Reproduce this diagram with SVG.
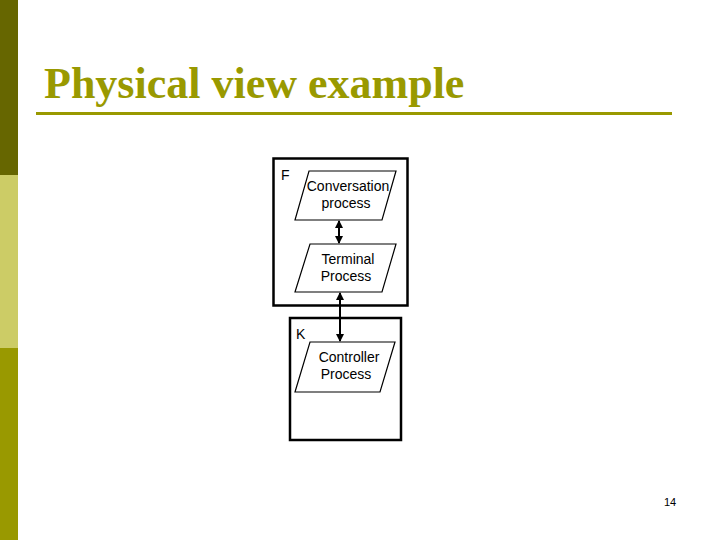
<svg xmlns="http://www.w3.org/2000/svg" width="720" height="540" viewBox="0 0 720 540">
<style>
.lbl{font-family:"Liberation Sans",Arial,sans-serif;font-size:14px;fill:#000;text-anchor:middle}
.tag{font-family:"Liberation Sans",Arial,sans-serif;font-size:14px;fill:#000}
.para{fill:#fff;stroke:#000;stroke-width:1.2}
.box{fill:#fff;stroke:#000;stroke-width:2.5}
.conn{stroke:#000;stroke-width:2;fill:none}
</style>
<defs>
<marker id="ah" markerWidth="8" markerHeight="8" refX="7" refY="4" orient="auto-start-reverse" markerUnits="userSpaceOnUse">
<path d="M0,0 L8,4 L0,8 Z" fill="#000"/>
</marker>
</defs>
<rect width="720" height="540" fill="#fff"/>
<rect x="0" y="0" width="18" height="175" fill="#666600"/>
<rect x="0" y="175" width="18" height="173" fill="#cccc66"/>
<rect x="0" y="348" width="18" height="192" fill="#999900"/>
<text x="44" y="98" font-family="Liberation Serif,'Times New Roman',serif" font-weight="bold" font-size="44" fill="#999900">Physical view example</text>
<rect x="36" y="112" width="636" height="3" fill="#999900"/>
<g id="nodeF">
<rect class="box" x="273.5" y="158.5" width="134" height="147"/>
<text class="tag" x="281" y="180">F</text>
</g>
<g id="nodeK">
<rect class="box" x="290" y="318" width="111" height="122"/>
<text class="tag" x="296" y="339">K</text>
</g>
<g id="conversation">
<polygon class="para" points="309,171 396,171 382,220 295,220"/>
<text class="lbl" x="348" y="191">Conversation</text>
<text class="lbl" x="346" y="208">process</text>
</g>
<g id="terminal">
<polygon class="para" points="310,244 396,244 382,292 295,292"/>
<text class="lbl" x="348" y="264">Terminal</text>
<text class="lbl" x="346" y="281">Process</text>
</g>
<g id="controller">
<polygon class="para" points="310,342 395,342 380,392 295,392"/>
<text class="lbl" x="349" y="362">Controller</text>
<text class="lbl" x="346" y="379">Process</text>
</g>
<g id="connectors">
<line class="conn" x1="339" y1="221" x2="339" y2="243" marker-start="url(#ah)" marker-end="url(#ah)"/>
<line class="conn" x1="340" y1="293" x2="340" y2="341" marker-start="url(#ah)" marker-end="url(#ah)"/>
</g>
<text x="670" y="506" font-family="Liberation Sans,Arial,sans-serif" font-size="11" text-anchor="middle" fill="#000">14</text>
</svg>
